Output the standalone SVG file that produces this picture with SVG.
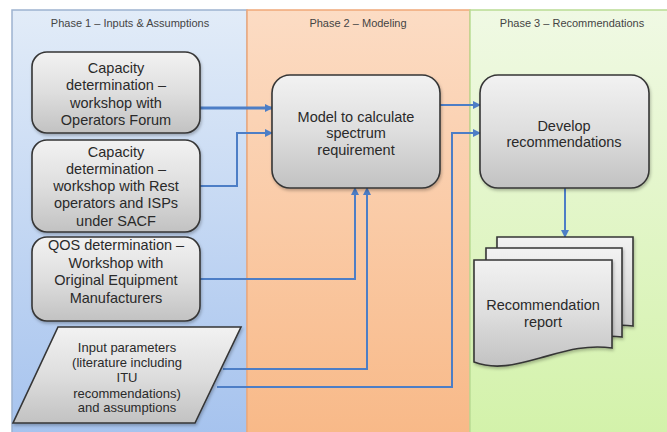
<svg xmlns="http://www.w3.org/2000/svg" width="667" height="432" viewBox="0 0 667 432">
<defs>
<linearGradient id="g1" x1="0" y1="0" x2="0" y2="1"><stop offset="0" stop-color="#e2ecf8"/><stop offset="1" stop-color="#a6c3ee"/></linearGradient>
<linearGradient id="g2" x1="0" y1="0" x2="0" y2="1"><stop offset="0" stop-color="#fcdcc4"/><stop offset="1" stop-color="#f8b988"/></linearGradient>
<linearGradient id="g3" x1="0" y1="0" x2="0" y2="1"><stop offset="0" stop-color="#f0f9e4"/><stop offset="1" stop-color="#d3f2aa"/></linearGradient>
<linearGradient id="gn" x1="0" y1="0" x2="0" y2="1"><stop offset="0" stop-color="#f2f2f2"/><stop offset="0.5" stop-color="#dedede"/><stop offset="1" stop-color="#c2c2c2"/></linearGradient>
<marker id="ah" viewBox="0 0 8 8" refX="7" refY="4" markerWidth="8" markerHeight="8" markerUnits="userSpaceOnUse" orient="auto"><path d="M0,0 L8,4 L0,8 z" fill="#4d7ec6"/></marker>
<filter id="sh" x="-10%" y="-10%" width="130%" height="130%"><feDropShadow dx="1" dy="2" stdDeviation="1.5" flood-color="#000" flood-opacity="0.25"/></filter>
</defs>
<style>
.node{fill:url(#gn);stroke:#363636;stroke-width:1.6;filter:url(#sh)}
.t{font-family:"Liberation Sans",Arial,sans-serif;font-size:14.5px;fill:#2a2a2a;text-anchor:middle}
.ts{font-family:"Liberation Sans",Arial,sans-serif;font-size:13px;fill:#2a2a2a;text-anchor:middle}
.hd{font-family:"Liberation Sans",Arial,sans-serif;font-size:11px;fill:#444;text-anchor:middle}
.c{fill:none;stroke:#4d7ec6;stroke-width:2;marker-end:url(#ah)}
</style>
<rect width="667" height="432" fill="#ffffff"/>
<g id="lanes">
<rect x="12" y="10" width="235" height="424" fill="url(#g1)" stroke="#9db3cf" stroke-width="1.5"/>
<rect x="247" y="10" width="223" height="424" fill="url(#g2)" stroke="#f0a878" stroke-width="1.5"/>
<rect x="470" y="10" width="199" height="424" fill="url(#g3)" stroke="#b9db94" stroke-width="1.5"/>
<text class="hd" x="130" y="27">Phase 1 – Inputs &amp; Assumptions</text>
<text class="hd" x="358" y="27">Phase 2 – Modeling</text>
<text class="hd" x="572" y="27">Phase 3 – Recommendations</text>
</g>
<g id="connectors">
<path class="c" d="M200,108 H272" style="stroke-width:3"/>
<path class="c" d="M200,186 H237 V133 H272"/>
<path class="c" d="M200,279 H355 V188"/>
<path class="c" d="M223,369 H367 V188"/>
<path class="c" d="M217,387 H452 V133 H480"/>
<path class="c" d="M440,105 H480"/>
<path class="c" d="M565,188 V237"/>
</g>
<g id="n1">
<rect class="node" x="32" y="52" width="168" height="81" rx="15"/>
<text class="t" x="116" y="73">Capacity</text>
<text class="t" x="116" y="90">determination –</text>
<text class="t" x="116" y="108">workshop with</text>
<text class="t" x="116" y="125">Operators Forum</text>
</g>
<g id="n2">
<rect class="node" x="32" y="140" width="168" height="92" rx="15"/>
<text class="t" x="116" y="157">Capacity</text>
<text class="t" x="116" y="174">determination –</text>
<text class="t" x="116" y="191">workshop with Rest</text>
<text class="t" x="116" y="208">operators and ISPs</text>
<text class="t" x="116" y="226">under SACF</text>
</g>
<g id="n3">
<rect class="node" x="32" y="237" width="168" height="84" rx="15"/>
<text class="t" x="116" y="250">QOS determination –</text>
<text class="t" x="116" y="268">Workshop with</text>
<text class="t" x="116" y="285">Original Equipment</text>
<text class="t" x="116" y="303">Manufacturers</text>
</g>
<g id="n4">
<path class="node" d="M58,327 H241 L195,423 H13 Z"/>
<text class="ts" x="127" y="352">Input parameters</text>
<text class="ts" x="127" y="367">(literature including</text>
<text class="ts" x="127" y="382">ITU</text>
<text class="ts" x="127" y="398">recommendations)</text>
<text class="ts" x="127" y="412">and assumptions</text>
</g>
<g id="n5">
<rect class="node" x="272" y="75" width="168" height="113" rx="18"/>
<text class="t" x="356" y="122">Model to calculate</text>
<text class="t" x="356" y="138">spectrum</text>
<text class="t" x="356" y="155">requirement</text>
</g>
<g id="n6">
<rect class="node" x="480" y="75" width="169" height="113" rx="18"/>
<text class="t" x="564" y="131">Develop</text>
<text class="t" x="564" y="147">recommendations</text>
</g>
<g id="n7">
<path class="node" d="M497,237 H633 V326 C610,323 590,330 570,336 C545,343 525,346 497,340 Z"/>
<path class="node" d="M486,248 H622 V337 C598,334 578,341 556,347 C532,354 512,357 486,351 Z"/>
<path class="node" d="M474,260 H612 V348 C585,344 562,352 540,358 C515,365 495,370 474,362 Z"/>
<text class="t" x="543" y="310">Recommendation</text>
<text class="t" x="543" y="327">report</text>
</g>
</svg>
